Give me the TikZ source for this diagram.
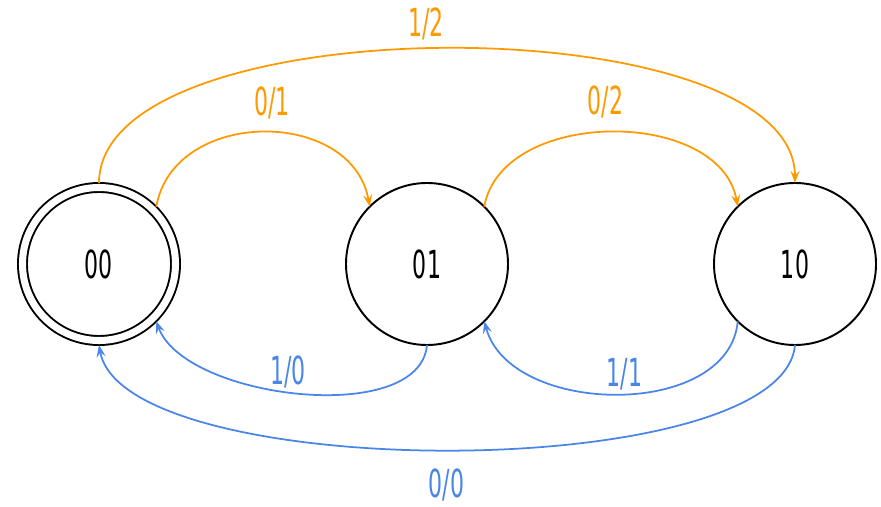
\documentclass[tikz,border=0pt]{standalone}
\usepackage{fontspec}
\setmainfont[FakeStretch=0.57]{DejaVu Sans}
\usepackage{xcolor}
\usetikzlibrary{positioning,arrows.meta}

\definecolor{outone}{HTML}{FF9900}
\definecolor{outzero}{HTML}{4A86E8}

\begin{document}
\begin{tikzpicture}[
    font=\fontsize{22}{26}\selectfont,
    state/.style={circle, draw=black, line width=1.1pt, minimum size=3.24cm, inner sep=0pt, outer sep=0pt},
    accepting/.style={state, double, double distance=0.141cm, minimum size=3.06cm, outer sep=0.09cm},
    trans/.style={line width=1pt, -{Stealth[length=2.4mm, width=1.8mm, inset=0.9mm]}},
    trans_up/.style={trans, draw=outone},
    trans_down/.style={trans, draw=outzero},
    lbl_up/.style={text=outone, above=4pt},
    lbl_down/.style={text=outzero, above=-1.5pt, inner sep=3pt},
]
\useasboundingbox (-1.98,-4.86) rectangle (15.64,5.28);
% states
\node[accepting] (s00) at (0,0) {00};
\node[state, right=3.32cm of s00] (s01) {01};
\node[state, right=4.12cm of s01] (s10) {10};
% upper transitions
\draw[trans_up] (s00.north) to[out=90, in=90, looseness=0.66] node[lbl_up, above=1pt, pos=0.48] {1/2} (s10.north);
\draw[trans_up] (s00.45) to[out=80, in=100, looseness=1.21] node[lbl_up, pos=0.53] {0/1} (s01.135);
\draw[trans_up] (s01.45) to[out=80, in=100, looseness=1.02] node[lbl_up, pos=0.485] {0/2} (s10.135);
% lower transitions
\draw[trans_down] (s01.south) to[out=-95, in=-70, looseness=0.78] node[lbl_down, pos=0.53] {1/0} (s00.-45);
\draw[trans_down] (s10.-135) to[out=-95, in=-75, looseness=1.0] node[lbl_down, pos=0.48] {1/1} (s01.-45);
\draw[trans_down] (s10.south) to[out=-95, in=-80, looseness=0.52] node[text=outzero, below=7pt, pos=0.505] {0/0} (s00.south);
\end{tikzpicture}
\end{document}
